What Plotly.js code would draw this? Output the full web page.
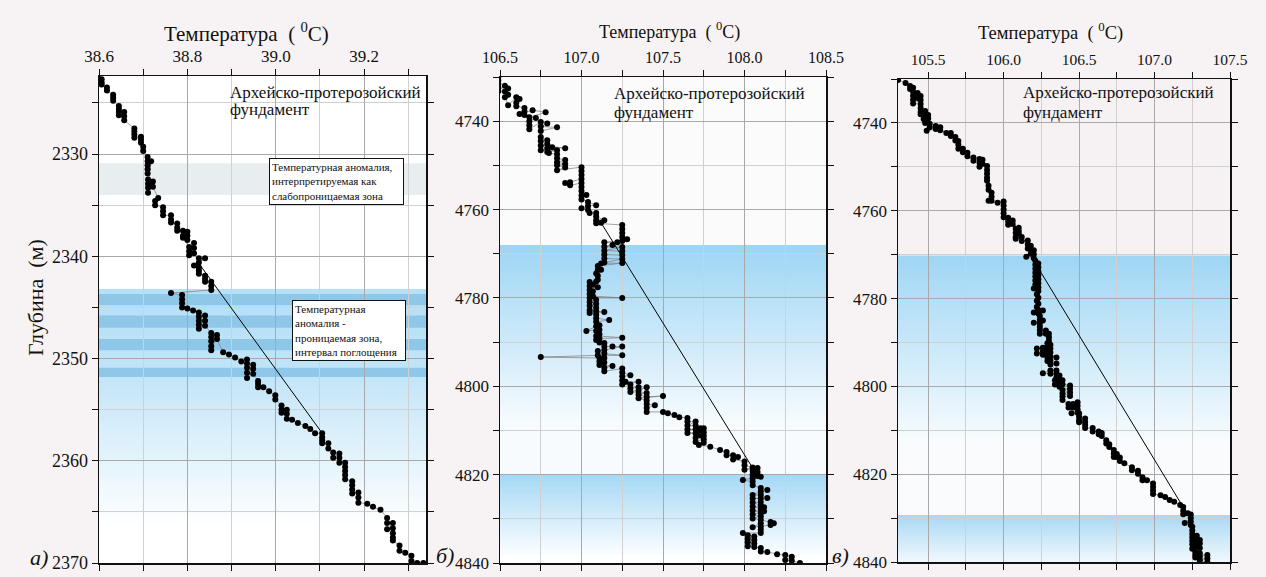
<!DOCTYPE html>
<html>
<head>
<meta charset="utf-8">
<script src="https://cdn.plot.ly/plotly-3.0.1.min.js"></script>
<style>
html,body{margin:0;padding:0;background:#f7f3f4;}
#chart{width:1266px;height:577px;}
</style>
</head>
<body>
<div id="chart"></div>
<script>
// ---------- DATA ----------
// Panel а) depth 2322–2370 m
const tempA = [38.597,38.606,38.606,38.606,38.618,38.618,38.632,38.632,38.632,38.645,38.645,38.645,38.645,38.657,38.657,38.657,
38.68,38.68,38.68,38.68,38.695,38.695,38.695,38.70,38.70,38.71,38.71,38.71,38.71,38.71,38.718,38.711,38.711,38.711,38.711,38.722,38.722,
38.734,38.727,38.727,38.745,38.745,38.745,38.763,38.763,38.763,38.777,38.777,38.777,38.79,38.79,38.80,38.80,38.80,38.79,
38.804,38.804,38.804,38.815,38.815,38.815,38.826,38.826,38.84,38.815,38.826,38.826,38.826,38.84,38.84,38.84,38.854,38.854,38.854,
38.763,38.788,38.788,38.788,38.788,38.80,38.813,38.826,38.826,38.826,38.826,38.826,38.84,38.84,38.84,
38.854,38.854,38.854,38.854,38.854,38.867,38.867,38.881,38.894,38.908,38.922,38.935,38.935,38.935,38.935,38.935,38.949,38.949,38.949,
38.96,38.96,38.96,38.972,38.985,38.999,38.999,39.013,39.013,39.013,39.025,39.025,39.025,39.037,39.05,39.067,39.078,39.089,
39.105,39.105,39.105,39.105,39.119,39.119,39.13,39.13,39.144,39.144,39.144,39.157,39.157,39.157,39.157,39.157,
39.173,39.173,39.173,39.173,39.187,39.187,39.187,39.207,39.22,39.237,39.252,39.252,39.252,39.265,39.265,39.265,39.265,39.265,
39.28,39.28,39.293,39.307,39.307,39.32,39.334];
const depthA = [2322.4,2322.7,2323.0,2323.2,2323.5,2323.8,2324.2,2324.5,2324.8,2325.3,2325.6,2325.9,2326.2,2325.9,2326.3,2326.7,
2327.5,2327.8,2328.1,2328.4,2328.3,2328.6,2328.9,2329.3,2329.7,2330.3,2330.7,2331.1,2331.5,2331.9,2330.7,2332.5,2332.9,2333.3,2333.8,2332.7,2333.2,
2334.3,2334.6,2335.0,2335.2,2335.6,2336.0,2336.0,2336.4,2336.7,2336.8,2337.2,2337.5,2337.5,2338.0,2337.6,2338.0,2338.4,2338.2,
2339.1,2339.5,2339.9,2338.7,2339.2,2339.7,2340.2,2340.6,2340.2,2340.9,2341.1,2341.4,2341.7,2341.9,2342.2,2342.5,2342.5,2342.9,2343.3,
2343.6,2343.8,2344.2,2344.6,2345.0,2345.1,2345.3,2345.5,2345.9,2346.3,2346.7,2347.1,2345.8,2346.3,2346.8,
2347.5,2347.9,2348.3,2348.8,2349.2,2347.7,2348.1,2349.4,2349.6,2349.9,2350.3,2350.1,2350.5,2350.9,2351.4,2351.9,2350.6,2351.0,2351.5,
2352.2,2352.5,2352.8,2352.8,2353.2,2353.6,2354.0,2354.6,2355.0,2355.3,2355.0,2355.4,2355.9,2356.0,2356.3,2356.6,2356.9,2357.3,
2357.3,2357.7,2358.0,2358.3,2358.3,2358.8,2359.2,2359.7,2359.3,2359.7,2360.2,2360.2,2360.6,2361.0,2361.4,2361.8,
2362.0,2362.4,2362.8,2363.2,2363.1,2363.6,2364.1,2364.2,2364.5,2364.8,2365.6,2366.1,2366.7,2366.1,2366.6,2367.1,2367.5,2367.8,
2368.3,2368.8,2369.0,2369.3,2369.8,2370.0,2370.0];

// Panel б) depth 4730–4840 m
const tempB = [106.49,106.49,106.49,106.49,106.49,106.53,106.55,106.53,106.55,106.53,106.55,106.60,106.62,106.60,106.60,106.65,106.65,106.65,106.62,
106.70,106.78,106.68,106.72,106.68,106.68,106.68,106.75,106.79,106.75,106.85,106.75,106.75,106.79,106.75,106.79,106.82,106.90,106.75,106.79,
106.75,106.85,106.79,106.80,106.85,106.85,106.90,106.85,106.90,106.85,106.90,106.85,107.00,107.00,107.00,107.00,106.90,106.93,106.93,107.00,
107.00,107.00,107.03,107.00,107.00,107.04,107.09,107.04,107.00,107.04,107.05,107.09,107.09,107.14,107.09,107.12,107.09,107.25,107.25,107.25,
107.25,107.28,107.25,107.14,107.22,107.19,107.14,107.25,107.14,107.25,107.25,107.14,107.14,107.25,107.14,107.12,107.25,107.10,107.12,107.10,
107.09,107.10,107.10,107.09,107.05,107.07,107.10,107.05,107.05,107.07,107.05,107.07,107.25,107.05,107.09,107.05,107.09,107.05,107.09,107.05,
107.09,107.14,107.05,107.09,107.09,107.17,107.09,107.11,107.09,107.03,107.11,107.09,107.11,107.09,107.25,107.11,107.09,107.11,107.14,107.14,
107.19,107.25,107.14,107.10,107.14,107.25,107.10,106.75,107.11,107.14,107.11,107.14,107.11,107.19,107.14,107.14,107.25,107.25,107.30,107.25,
107.25,107.27,107.35,107.25,107.30,107.30,107.35,107.35,107.40,107.30,107.40,107.35,107.40,107.50,107.35,107.40,107.40,107.45,107.40,107.40,
107.50,107.53,107.57,107.60,107.65,107.65,107.70,107.65,107.70,107.73,107.75,107.65,107.70,107.73,107.75,107.65,107.70,107.75,107.73,107.70,
107.75,107.70,107.75,107.72,107.79,107.85,107.89,107.89,107.93,107.96,107.93,108.00,108.00,108.05,108.00,108.08,108.05,108.08,108.05,108.10,
108.08,108.05,107.99,108.05,108.05,108.10,108.14,108.10,108.05,108.10,108.14,108.05,108.10,108.10,108.05,108.10,108.12,108.05,108.10,108.12,
108.05,108.10,108.05,108.10,108.05,108.10,108.16,108.18,108.16,108.05,108.10,108.10,108.10,108.10,107.99,108.02,108.06,108.02,108.06,108.02,
108.06,108.02,108.06,108.10,108.10,108.14,108.20,108.25,108.29,108.25,108.29,108.34];
const depthB = [4730.0,4730.8,4731.6,4732.4,4733.2,4732.0,4732.6,4733.3,4734.0,4734.6,4736.4,4734.6,4735.0,4735.8,4736.6,4737.0,4737.8,4738.6,4738.4,
4737.5,4738.0,4739.1,4739.3,4740.0,4740.9,4741.8,4740.2,4740.5,4741.2,4741.4,4742.2,4743.6,4744.3,4744.5,4745.2,4745.9,4746.1,4745.5,4746.2,
4746.6,4746.6,4747.0,4747.2,4747.5,4748.4,4748.8,4749.3,4749.7,4750.0,4750.5,4751.1,4750.4,4751.3,4752.2,4753.1,4754.0,4753.8,4754.5,4754.0,
4754.9,4755.8,4756.7,4756.8,4757.7,4758.3,4759.0,4759.2,4759.7,4760.1,4760.8,4760.8,4761.6,4762.4,4762.4,4763.0,4763.1,4763.5,4764.4,4765.3,
4766.2,4766.7,4767.1,4767.4,4767.4,4768.0,4768.4,4768.5,4769.3,4769.4,4770.3,4770.2,4771.1,4771.2,4772.0,4772.2,4772.1,4772.8,4773.6,4773.7,
4774.5,4775.0,4775.9,4776.3,4776.4,4777.0,4777.6,4777.3,4778.2,4778.5,4779.1,4779.6,4780.0,4780.0,4780.4,4780.9,4781.3,4781.8,4782.2,4782.8,
4783.0,4783.2,4783.4,4783.8,4784.6,4785.0,4785.4,4786.2,4786.4,4787.5,4787.2,4787.5,4788.2,4788.6,4789.0,4789.2,4789.5,4790.1,4790.2,4791.0,
4791.0,4791.0,4791.8,4792.0,4792.6,4793.0,4793.0,4793.4,4793.6,4793.6,4794.4,4794.6,4795.2,4795.4,4795.8,4796.6,4796.0,4796.9,4797.5,4797.8,
4798.7,4799.0,4799.0,4799.6,4799.6,4800.5,4800.2,4801.0,4800.2,4801.3,4801.5,4801.9,4802.4,4802.2,4802.7,4803.2,4804.0,4804.3,4804.9,4805.8,
4805.8,4806.1,4806.5,4807.0,4807.2,4808.0,4808.0,4808.9,4808.9,4809.5,4809.5,4809.8,4809.8,4810.3,4810.4,4810.6,4810.7,4811.2,4811.1,4811.7,
4812.0,4812.6,4812.8,4813.3,4813.7,4814.4,4814.9,4815.6,4815.6,4816.0,4816.6,4817.0,4817.9,4818.4,4818.9,4818.5,4819.2,4819.4,4820.0,4820.5,
4820.3,4820.8,4821.2,4821.6,4822.4,4823.0,4823.5,4823.8,4824.6,4824.6,4825.3,4825.4,4825.4,4826.2,4826.3,4827.0,4827.4,4827.2,4827.8,4828.3,
4828.1,4828.6,4829.0,4829.4,4829.9,4830.2,4830.7,4831.0,4831.4,4831.9,4831.0,4831.8,4832.5,4833.2,4833.2,4833.7,4834.0,4834.5,4834.8,4835.3,
4835.6,4836.2,4836.4,4836.6,4837.4,4837.5,4838.0,4838.2,4838.6,4839.3,4839.5,4840.0];

// Panel в) depth 4730–4840 m
const tempC = [105.30,105.35,105.38,105.38,105.40,105.40,105.43,105.40,105.45,105.43,105.40,105.45,105.40,105.45,105.45,105.45,105.48,105.45,105.48,
105.50,105.47,105.48,105.50,105.48,105.51,105.55,105.51,105.49,105.55,105.58,105.58,105.62,105.65,105.65,105.68,105.68,105.70,105.70,105.70,
105.73,105.73,105.76,105.76,105.80,105.80,105.84,105.86,105.84,105.86,105.84,105.89,105.89,105.89,105.89,105.89,105.90,105.90,105.92,105.92,
105.92,105.90,105.96,106.00,106.00,106.00,106.00,106.00,106.03,106.03,106.06,106.03,106.06,106.10,106.08,106.10,106.08,106.10,106.08,106.08,
106.12,106.12,106.16,106.16,106.18,106.16,106.18,106.20,106.18,106.20,106.15,106.20,106.21,106.23,106.21,106.23,106.21,106.23,106.21,106.23,
106.21,106.23,106.21,106.23,106.21,106.23,106.20,106.23,106.22,106.23,106.22,106.23,106.22,106.23,106.26,106.20,106.23,106.24,106.24,106.26,
106.20,106.24,106.24,106.28,106.24,106.28,106.30,106.24,106.30,106.30,106.29,106.31,106.22,106.26,106.29,106.31,106.26,106.29,106.22,106.31,
106.26,106.29,106.35,106.31,106.29,106.31,106.29,106.35,106.31,106.35,106.31,106.26,106.31,106.35,106.37,106.35,106.37,106.34,106.39,106.35,
106.37,106.34,106.39,106.44,106.37,106.44,106.39,106.44,106.39,106.44,106.39,106.39,106.43,106.46,106.49,106.43,106.46,106.49,106.49,106.45,
106.49,106.50,106.50,106.50,106.54,106.50,106.54,106.54,106.54,106.59,106.59,106.63,106.63,106.65,106.65,106.68,106.68,106.70,106.70,106.73,
106.73,106.75,106.73,106.75,106.77,106.77,106.80,106.85,106.85,106.89,106.89,106.92,106.92,106.95,106.99,106.99,106.99,106.99,107.04,107.07,
107.10,107.13,107.17,107.19,107.19,107.22,107.19,107.24,107.24,107.20,107.24,107.24,107.25,107.25,107.25,107.28,107.25,107.28,107.30,107.25,
107.28,107.30,107.25,107.28,107.30,107.25,107.27,107.30,107.27,107.35,107.30,107.27,107.35,107.30,107.35];
const depthC = [4730.2,4730.9,4731.6,4732.3,4732.0,4732.9,4733.2,4733.8,4733.9,4734.3,4734.7,4734.8,4735.6,4735.7,4736.6,4737.5,4737.3,4738.0,4738.2,
4738.2,4739.1,4739.1,4739.0,4740.0,4740.2,4740.7,4741.0,4741.8,4741.4,4741.0,4741.7,4742.3,4742.3,4743.0,4743.2,4744.0,4744.1,4745.0,4745.9,
4745.9,4746.7,4746.8,4747.6,4748.6,4747.9,4748.2,4748.4,4749.1,4749.3,4750.0,4749.8,4750.7,4751.6,4752.5,4753.2,4754.3,4755.2,4755.9,4756.8,
4757.7,4757.7,4758.2,4757.9,4758.8,4759.7,4760.6,4761.5,4761.6,4762.4,4762.2,4763.2,4763.0,4763.9,4764.1,4764.6,4765.0,4765.2,4766.0,4766.4,
4766.0,4766.9,4766.8,4767.7,4768.0,4768.6,4768.9,4769.0,4769.8,4769.9,4770.5,4770.8,4771.4,4772.0,4772.3,4772.9,4773.2,4773.8,4774.1,4774.7,
4775.0,4775.6,4775.9,4776.5,4776.8,4777.4,4777.7,4778.3,4779.0,4779.8,4780.5,4781.2,4781.9,4782.6,4782.7,4783.2,4783.4,4784.0,4784.8,4785.0,
4785.5,4785.6,4786.4,4787.3,4787.2,4788.0,4788.0,4788.0,4788.8,4789.6,4790.2,4790.5,4791.4,4791.2,4791.0,4791.4,4792.0,4791.8,4792.5,4792.3,
4792.8,4792.6,4793.4,4793.2,4793.4,4794.1,4794.2,4794.8,4795.0,4796.4,4796.4,4797.0,4797.1,4797.2,4797.5,4798.0,4798.3,4798.6,4798.6,4798.6,
4799.2,4799.6,4799.5,4799.8,4800.1,4800.6,4800.8,4801.4,4801.6,4802.2,4802.3,4803.1,4804.0,4804.0,4803.6,4804.8,4804.8,4804.4,4805.2,4806.1,
4806.0,4806.1,4806.9,4807.7,4807.3,4808.2,4808.1,4808.8,4809.5,4809.5,4810.3,4810.3,4810.9,4810.6,4811.3,4812.3,4813.0,4813.2,4813.8,4814.5,
4815.3,4815.4,4816.1,4816.1,4816.2,4817.0,4817.5,4818.4,4819.1,4819.2,4819.9,4820.7,4821.4,4821.4,4822.1,4822.9,4823.7,4824.5,4824.8,4825.2,
4825.9,4826.3,4827.0,4827.5,4828.3,4828.9,4829.1,4829.2,4830.0,4831.1,4830.8,4831.6,4832.0,4832.8,4833.6,4834.0,4834.4,4834.8,4835.0,4835.2,
4835.7,4835.8,4836.0,4836.5,4836.8,4837.0,4837.7,4838.0,4838.4,4838.4,4838.8,4839.0,4839.2,4839.6,4840.0];

// Straight reference (gradient) lines: [temp], [depth]
const lineAT = [38.826, 39.105], lineAD = [2340.7, 2357.3];
const lineBT = [107.11, 108.05], lineBD = [4762.4, 4818.5];
const lineCT = [106.22, 107.195], lineCD = [4772.5, 4827.8];

// Tick values / labels
const xTicksA = [38.6, 38.8, 39.0, 39.2];
const xTicksB = [106.5, 107.0, 107.5, 108.0, 108.5];
const xTicksC = [105.5, 106.0, 106.5, 107.0, 107.5];

// ---------- LAYOUT HELPERS ----------
const W = 1266, H = 577;
const SERIF = '"Liberation Serif", "Times New Roman", Times, "DejaVu Serif", serif';
const px = v => v / W;
const py = v => 1 - v / H;

function hex2rgb(h){h=h.replace('#','');return [parseInt(h.substr(0,2),16),parseInt(h.substr(2,2),16),parseInt(h.substr(4,2),16)];}
function mix(a,b,t){const A=hex2rgb(a),B=hex2rgb(b);return 'rgb('+A.map((v,i)=>Math.round(v+(B[i]-v)*t)).join(',')+')';}
const shapes = [];
function band(ax, ya, y0, y1, color){
  shapes.push({type:'rect', xref: ax+' domain', yref: ya, x0:0, x1:1, y0:y0, y1:y1, fillcolor: color, line:{width:0}, layer:'below'});
}
function grad(ax, ya, y0, y1, c0, c1, n){
  const step = (y1-y0)/n;
  for(let i=0;i<n;i++){
    band(ax, ya, y0+step*i, y0+step*(i+1)+step*0.3, mix(c0,c1,(i+0.5)/n));
  }
}
// Panel а backgrounds
band('x','y',2330.9,2334.0,'#e8edf0');
grad('x','y',2343.2,2352.4,'#b4dff7','#c3e5f8',6);
band('x','y',2343.7,2344.8,'#8fc7e8');
band('x','y',2345.8,2347.0,'#8fc7e8');
band('x','y',2348.1,2349.2,'#8fc7e8');
band('x','y',2350.9,2351.8,'#8fc7e8');
grad('x','y',2352.4,2366.5,'#c6e6f8','#ffffff',30);
// Panel б backgrounds
band('x2','y2',4730,4768,'#fcfbfc');
grad('x2','y2',4768,4808,'#9dd5f4','#f6fbfe',40);
band('x2','y2',4808,4820,'#f8fbfd');
grad('x2','y2',4820,4838,'#a4d8f5','#fbfdff',25);
// Panel в backgrounds
band('x3','y3',4730,4770.2,'#f6f2f3');
grad('x3','y3',4770.2,4812,'#9fd6f4','#f6fbfe',40);
band('x3','y3',4812,4829.3,'#fafbfc');
grad('x3','y3',4829.3,4840,'#a8d9f3','#f1f8fd',18);

function xax(domain, range, ticks, minor, fs){
  return {domain: domain, range: range, side:'top', tickvals: ticks, ticktext: ticks.map(v=>v.toFixed(1)),
    ticks:'outside', ticklen:6, tickwidth:1, tickcolor:'#111', showline:true, linecolor:'#111', linewidth:1.5,
    mirror:'ticks', showgrid:true, gridcolor:'#a9a9a9', gridwidth:1, zeroline:false,
    minor:{dtick:minor, tick0: ticks[0], ticks:'outside', ticklen:6, tickcolor:'#111', showgrid:true, gridcolor:'#d0d0d0', gridwidth:1},
    tickfont:{family:SERIF, size:fs, color:'#111'}, fixedrange:true};
}
function yax(domain, range, tick0, dtick, minor, fs){
  return {domain: domain, range: range, tick0: tick0, dtick: dtick, ticks:'outside', ticklen:6, tickwidth:1, tickcolor:'#111',
    showline:true, linecolor:'#111', linewidth:1.5, mirror:'ticks', showgrid:true, gridcolor:'#a9a9a9', gridwidth:1, zeroline:false,
    minor:{dtick:minor, ticks:'outside', ticklen:6, tickcolor:'#111', showgrid:true, gridcolor:'#d0d0d0', gridwidth:1},
    tickfont:{family:SERIF, size:fs, color:'#111'}, fixedrange:true};
}

const ptStyle = {mode:'lines+markers', marker:{color:'#000', size:6}, line:{color:'#7a7a7a', width:0.7}, hoverinfo:'skip', showlegend:false};
const traces = [
  Object.assign({x: tempA, y: depthA, xaxis:'x', yaxis:'y'}, ptStyle),
  {x: lineAT, y: lineAD, xaxis:'x', yaxis:'y', mode:'lines', line:{color:'#000', width:1}, hoverinfo:'skip', showlegend:false},
  Object.assign({x: tempB, y: depthB, xaxis:'x2', yaxis:'y2'}, ptStyle),
  {x: lineBT, y: lineBD, xaxis:'x2', yaxis:'y2', mode:'lines', line:{color:'#000', width:1}, hoverinfo:'skip', showlegend:false},
  Object.assign({x: tempC, y: depthC, xaxis:'x3', yaxis:'y3'}, ptStyle),
  {x: lineCT, y: lineCD, xaxis:'x3', yaxis:'y3', mode:'lines', line:{color:'#000', width:1}, hoverinfo:'skip', showlegend:false}
];

const titleText = 'Температура  ( <sup>0</sup>C)';
function txt(x, y, text, size, opts){
  return Object.assign({xref:'paper', yref:'paper', x:px(x), y:py(y), text:text, showarrow:false,
    font:{family:SERIF, size:size, color:'#111'}, xanchor:'center', yanchor:'middle'}, opts||{});
}
const annotations = [
  txt(246, 33, titleText, 21),
  txt(669, 31, titleText, 18),
  txt(1050, 32, titleText, 18.5),
  txt(35, 298, 'Глубина  (м)', 22, {textangle:-90}),
  txt(228, 93, 'Архейско-протерозойский', 17, {xanchor:'left'}),
  txt(228, 110, 'фундамент', 17, {xanchor:'left'}),
  txt(612, 94, 'Архейско-протерозойский', 17, {xanchor:'left'}),
  txt(612, 112, 'фундамент', 17, {xanchor:'left'}),
  txt(1021, 93, 'Архейско-протерозойский', 17, {xanchor:'left'}),
  txt(1021, 112, 'фундамент', 17, {xanchor:'left'}),
  txt(269, 158, 'Температурная аномалия,<br>интерпретируемая как<br>слабопроницаемая зона', 11,
      {xanchor:'left', yanchor:'top', align:'left', bgcolor:'#ffffff', bordercolor:'#111', borderwidth:1, borderpad:2, width:129}),
  txt(292, 300, 'Температурная<br>аномалия -<br>проницаемая зона,<br>интервал поглощения', 11,
      {xanchor:'left', yanchor:'top', align:'left', bgcolor:'#ffffff', bordercolor:'#111', borderwidth:1, borderpad:2, width:108}),
  txt(39, 557, '<i>а)</i>', 22),
  txt(445, 555, '<i>б)</i>', 22),
  txt(840, 555, '<i>в)</i>', 22)
];

const layout = {
  width: W, height: H, margin:{l:0, r:0, t:0, b:0},
  paper_bgcolor:'#f7f3f4', plot_bgcolor:'#ffffff',
  hovermode:false, showlegend:false,
  font:{family:SERIF},
  xaxis: xax([px(99), px(426)], [38.6, 39.34], xTicksA, 0.1, 17),
  yaxis: yax([py(563), py(76)], [2370, 2322.37], 2330, 10, 5, 18),
  xaxis2: xax([px(500), px(826)], [106.5, 108.5], xTicksB, 0.25, 16),
  yaxis2: yax([py(563), py(77)], [4840, 4730], 4740, 20, 10, 17),
  xaxis3: xax([px(898), px(1230)], [105.3, 107.5], xTicksC, 0.25, 15.5),
  yaxis3: yax([py(562), py(79)], [4840, 4730], 4740, 20, 10, 17),
  shapes: shapes,
  annotations: annotations
};
layout.xaxis.anchor='y'; layout.yaxis.anchor='x';
layout.xaxis2.anchor='y2'; layout.yaxis2.anchor='x2';
layout.xaxis3.anchor='y3'; layout.yaxis3.anchor='x3';

Plotly.newPlot('chart', traces, layout, {displayModeBar:false, staticPlot:true});
</script>
</body>
</html>
